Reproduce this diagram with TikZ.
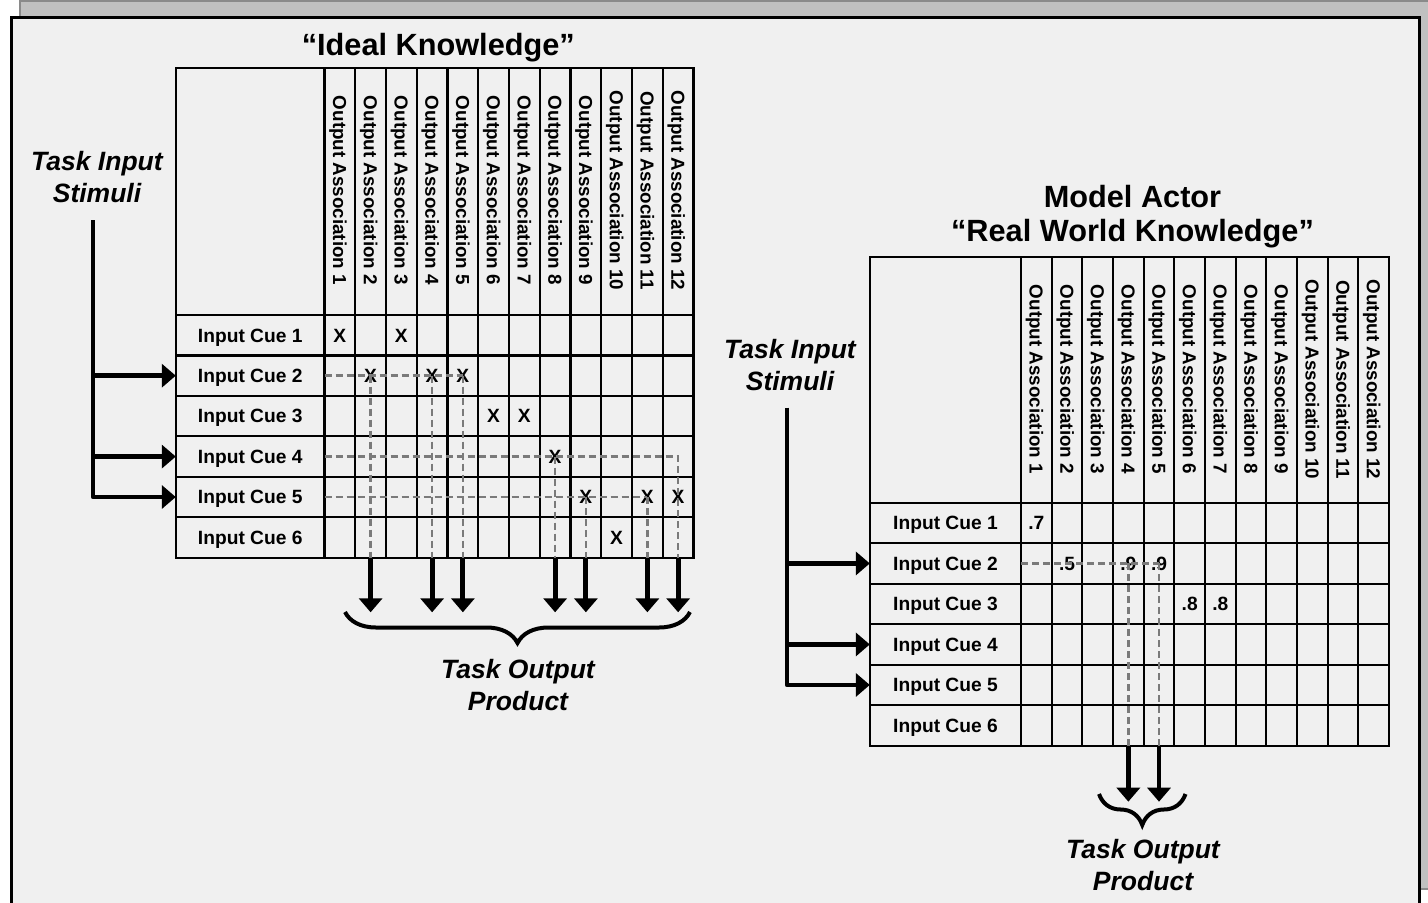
\documentclass[tikz,border=0pt]{standalone}
\usepackage{fontspec}
\setmainfont{Liberation Sans}
\usetikzlibrary{arrows.meta,decorations.pathreplacing}
\definecolor{framebg}{HTML}{F0F0F0}
\definecolor{backgray}{HTML}{C0C0C0}
\definecolor{backedge}{HTML}{8A8A8A}
\definecolor{dashgray}{HTML}{7A7A7A}
\begin{document}
\begin{tikzpicture}[x=1bp,y=-1bp,
  gridline/.style={line width=2.2bp,draw=black},
  celltext/.style={font=\fontsize{19.2bp}{22bp}\selectfont\bfseries,inner sep=0pt,text height=13.7bp,text depth=0pt},
  headtext/.style={font=\fontsize{18.8bp}{22bp}\selectfont\bfseries,inner sep=0pt,text height=13.5bp,text depth=0pt,rotate=-90},
  titletext/.style={font=\fontsize{30.7bp}{34.5bp}\selectfont\bfseries,inner sep=0pt,align=center},
  tasktext/.style={font=\fontsize{26.5bp}{31.6bp}\selectfont\bfseries\itshape,inner sep=0pt,align=center},
  trace/.style={draw=dashgray,line width=2.5bp,dash pattern=on 7bp off 4bp},
  flowarrow/.style={line width=4.8bp,line join=round,-{Triangle[length=14bp,width=23bp]}},
  bracket/.style={line width=4bp,decorate,decoration={brace,mirror,amplitude=31bp}},
]
\useasboundingbox (0,0) rectangle (1428,902);
\clip (0,0) rectangle (1428,902);
% background panels
\draw[fill=backgray,draw=backedge,line width=1.5bp] (20,1) rectangle (1440,889);
\draw[fill=framebg,draw=black,line width=3bp] (11,17.5) rectangle (1419,930);

% ================= LEFT: Ideal Knowledge =================
\node[titletext,text height=22bp,text depth=0pt] (Ltitle) at (438.3,44.2) {“Ideal Knowledge”};
\draw[gridline] (176,68) rectangle (693.5,557.7);
\foreach \ri in {0,...,5} \draw[gridline] (176,{315+40.45*\ri}) -- (693.5,{315+40.45*\ri});
\foreach \ci in {0,...,11} \draw[gridline] ({324.5+30.75*\ci},68) -- ({324.5+30.75*\ci},557.7);
\foreach \ri in {1,...,6}{
  \node[celltext,minimum width=148.5bp,minimum height=40.45bp] (LR\ri) at (250.25,{315+40.45*(\ri-0.5)}) {Input Cue \ri};
  \foreach \ci in {1,...,12} \coordinate (L-\ri-\ci) at ({324.5+30.75*(\ci-0.5)},{315+40.45*(\ri-0.5)});
}
\foreach \ci in {1,...,12}{
  \node[headtext] (LH\ci) at ({324.5+30.75*(\ci-0.5)},190.5) {Output Association \ci};
  \coordinate (Lb\ci) at ({324.5+30.75*(\ci-0.5)},557.7);
  \coordinate (Lt\ci) at ({324.5+30.75*(\ci-0.5)},612.3);
}
\foreach \ri/\ci in {1/1,1/3,2/2,2/4,2/5,3/6,3/7,4/8,5/9,5/11,5/12,6/10}
  \node[celltext] (LX-\ri-\ci) at (L-\ri-\ci) {X};
% traces
\draw[trace] (LR2.east) -- (L-2-5);
\draw[trace] (LR4.east) -- (L-4-12) -- (Lb12);
\draw[trace] (LR5.east) -- (L-5-11);
\foreach \ci/\ri in {2/2,4/2,5/2,8/4,9/5,11/5} \draw[trace] (L-\ri-\ci) -- (Lb\ci);
% outputs
\foreach \ci in {2,4,5,8,9,11,12} \draw[flowarrow] (Lb\ci) -- (Lt\ci);
\coordinate (LbrA) at (345,612);
\coordinate (LbrB) at (690,612);
\draw[bracket] (LbrA) -- (LbrB);
\node[tasktext,anchor=north] (LTO) at (518,659.5) {Task Output\\Product};
% inputs
\node[tasktext,anchor=north] (LTI) at (97,151.5) {Task Input\\Stimuli};
\coordinate (Lstem) at (93,220);
\draw[flowarrow] (Lstem) -- (Lstem |- LR5.west) -- (LR5.west);
\draw[flowarrow] (Lstem |- LR2.west) -- (LR2.west);
\draw[flowarrow] (Lstem |- LR4.west) -- (LR4.west);

% ================= RIGHT: Model Actor =================
\node[titletext,anchor=north] (Rtitle) at (1132.5,184.8) {Model Actor\\“Real World Knowledge”};
\draw[gridline] (870,257.3) rectangle (1389,745.7);
\foreach \ri in {0,...,5} \draw[gridline] (870,{502.7+40.5*\ri}) -- (1389,{502.7+40.5*\ri});
\foreach \ci in {0,...,11} \draw[gridline] ({1021+30.67*\ci},257.3) -- ({1021+30.67*\ci},745.7);
\foreach \ri in {1,...,6}{
  \node[celltext,minimum width=151bp,minimum height=40.5bp] (RR\ri) at (945.5,{502.7+40.5*(\ri-0.5)}) {Input Cue \ri};
  \foreach \ci in {1,...,12} \coordinate (R-\ri-\ci) at ({1021+30.67*(\ci-0.5)},{502.7+40.5*(\ri-0.5)});
}
\foreach \ci in {1,...,12}{
  \node[headtext] (RH\ci) at ({1021+30.67*(\ci-0.5)},379.5) {Output Association \ci};
  \coordinate (Rb\ci) at ({1021+30.67*(\ci-0.5)},745.7);
  \coordinate (Rt\ci) at ({1021+30.67*(\ci-0.5)},801.7);
}
\foreach \ri/\ci/\v in {1/1/.7,2/2/.5,2/4/.9,2/5/.9,3/6/.8,3/7/.8}
  \node[celltext] (RV-\ri-\ci) at (R-\ri-\ci) {\v};
\draw[trace] (RR2.east) -- (R-2-5);
\foreach \ci in {4,5} \draw[trace] (R-2-\ci) -- (Rb\ci);
\foreach \ci in {4,5} \draw[flowarrow] (Rb\ci) -- (Rt\ci);
\coordinate (RbrA) at (1099,794);
\coordinate (RbrB) at (1185.5,794);
\draw[bracket] (RbrA) -- (RbrB);
\node[tasktext,anchor=north] (RTO) at (1143,839) {Task Output\\Product};
\node[tasktext,anchor=north] (RTI) at (790,339.2) {Task Input\\Stimuli};
\coordinate (Rstem) at (787,407.7);
\draw[flowarrow] (Rstem) -- (Rstem |- RR5.west) -- (RR5.west);
\draw[flowarrow] (Rstem |- RR2.west) -- (RR2.west);
\draw[flowarrow] (Rstem |- RR4.west) -- (RR4.west);
\end{tikzpicture}
\end{document}
